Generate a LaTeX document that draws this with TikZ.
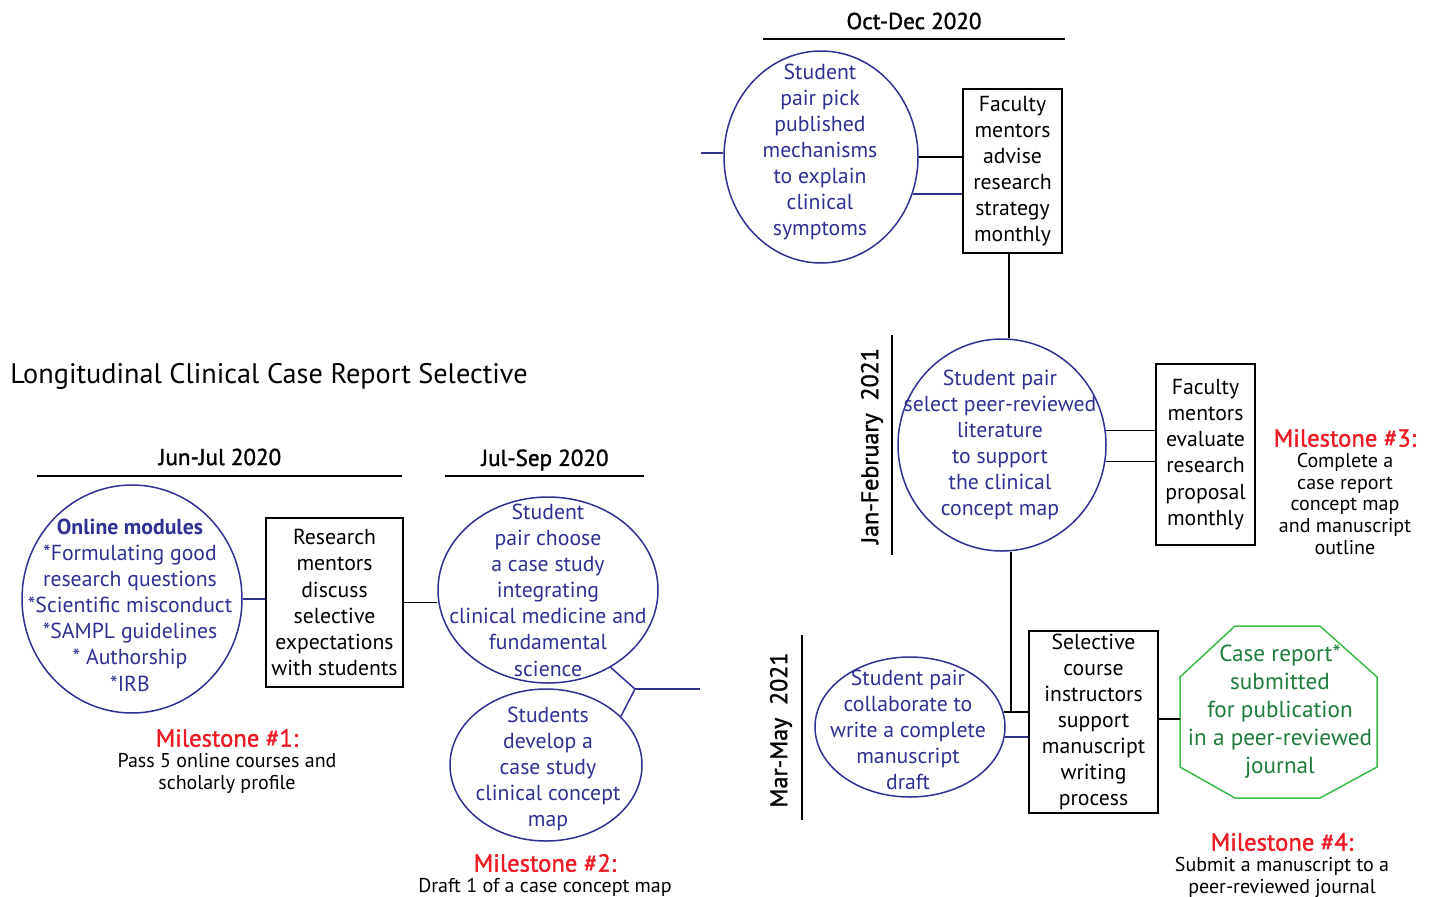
\documentclass[tikz,border=0pt]{standalone}
\usepackage{fontspec}
\setmainfont{PT Sans}
\newfontfamily\semib[FakeBold=1.4]{PT Sans}
\usetikzlibrary{shapes.geometric,calc}
\newdimen\pxu \pxu=0.75pt
\definecolor{cblue}{HTML}{2E3192}
\definecolor{cred}{HTML}{ED1C24}
\definecolor{cgreen}{HTML}{1E7B3C}
\definecolor{cgreenl}{HTML}{3DBB4A}
\tikzset{
  circ/.style={draw=cblue, line width=1.5\pxu, ellipse, inner sep=0pt},
  ctext/.style={text=cblue, align=center, font=\fontsize{16.3pt}{19.6pt}\selectfont, inner sep=0pt},
  box/.style={draw=black, line width=1.5\pxu, align=center, inner sep=0pt, font=\fontsize{16.3pt}{19.6pt}\selectfont},
  bl/.style={draw=cblue, line width=1.5\pxu},
  kl/.style={draw=black, line width=1.5\pxu},
  head/.style={font=\semib\fontsize{17.3pt}{20pt}\selectfont, inner sep=0pt},
  vhead/.style={font=\semib\fontsize{18pt}{20pt}\selectfont, inner sep=0pt, rotate=90},
  mtitle/.style={text=cred, font=\semib\fontsize{18.5pt}{21pt}\selectfont, inner sep=0pt},
  mtext/.style={align=center, font=\fontsize{15pt}{16.3pt}\selectfont, inner sep=0pt},
}
\begin{document}
\begin{tikzpicture}[x=0.75pt,y=-0.75pt]
\useasboundingbox (0,0) rectangle (1431,896);
% title
\node[anchor=west, font=\fontsize{21.2pt}{25pt}\selectfont, inner sep=0pt] (title) at (10,376) {Longitudinal Clinical Case Report Selective};
% headings
\node[head] (h1) at (220,457) {Jun-Jul 2020};
\draw[kl] (37,476) -- (402,476);
\node[head] (h2) at (545,460) {Jul-Sep 2020};
\draw[kl] (445,476) -- (644,476);
\node[head] (h3) at (914,21) {Oct-Dec 2020};
\draw[kl] (763,39) -- (1065,39);
\node[vhead] (h4) at (872,446) {Jan-February\ \ 2021};
\draw[kl] (892,335) -- (892,555);
\node[vhead] (h5) at (781,730) {Mar-May\ \ 2021};
\draw[kl] (802,635) -- (802,820);
% circles
\node[circ, minimum width=220\pxu, minimum height=228\pxu] (c1) at (132,599) {};
\node[ctext] (t1) at (130,605) {{\bfseries Online modules}\\*Formulating good\\research questions\\*Scientific misconduct\\*SAMPL guidelines\\* Authorship\\*IRB};
\node[circ, minimum width=220\pxu, minimum height=186\pxu] (c2) at (548,590) {};
\node[ctext] (t2) at (548,590) {Student\\pair choose\\a case study\\integrating\\clinical medicine and\\fundamental\\science};
\node[circ, minimum width=192\pxu, minimum height=152\pxu] (c3) at (546,765) {};
\node[ctext] (t3) at (548,769) {Students\\develop a\\case study\\clinical concept\\map};
\node[circ, minimum width=194\pxu, minimum height=212\pxu] (c4) at (821,157) {};
\node[ctext] (t4) at (820,152) {Student\\pair pick\\published\\mechanisms\\to explain\\clinical\\symptoms};
\node[circ, minimum width=208\pxu, minimum height=212\pxu] (c5) at (1002,445) {};
\node[ctext] (t5) at (1000,445) {Student pair\\select peer-reviewed\\literature\\to support\\the clinical\\concept map};
\node[circ, minimum width=190\pxu, minimum height=140\pxu] (c6) at (910,727) {};
\node[ctext] (t6) at (908,730) {Student pair\\collaborate to\\write a complete\\manuscript\\draft};
% boxes
\node[box, minimum width=137\pxu, minimum height=169\pxu] (b1) at (334.5,602.5) {Research\\mentors\\discuss\\selective\\expectations\\with students};
\node[box, minimum width=99\pxu, minimum height=164\pxu] (b2) at (1012.5,171) {Faculty\\mentors\\advise\\research\\strategy\\monthly};
\node[box, minimum width=99\pxu, minimum height=181\pxu] (b3) at (1205.5,454.5) {Faculty\\mentors\\evaluate\\research\\proposal\\monthly};
\node[box, minimum width=129\pxu, minimum height=182\pxu] (b4) at (1093.5,722) {Selective\\course\\instructors\\support\\manuscript\\writing\\process};
% octagon
\node[minimum width=197\pxu, minimum height=172\pxu, inner sep=0pt] (oct) at (1278.5,712) {};
\draw[draw=cgreenl, line width=1.5\pxu] (1235,626) -- (1320,626) -- (1377,677) -- (1377,767) -- (1320,798) -- (1235,798) -- (1180,767) -- (1180,677) -- cycle;
\node[text=cgreen, align=center, font=\fontsize{17.4pt}{21pt}\selectfont, inner sep=0pt] (t7) at (1280,712) {Case report*\\submitted\\for publication\\in a peer-reviewed\\journal};
% connectors
\draw[bl] (c1.east) -- (c1.east -| b1.west);
\draw[kl] (b1.east) -- (b1.east -| c2.west);
\coordinate (j1) at (635,689);
\coordinate (e1) at (700,689);
\draw[bl] (c2.-51) -- (j1) -- (c3.33);
\draw[bl] (j1) -- (e1);
\coordinate (e2) at (701,153);
\draw[bl] (e2) -- (e2 -| c4.west);
\draw[kl] (c4.east) -- (c4.east -| b2.west);
\draw[bl] (c4.-22) -- (c4.-22 -| b2.west);
\draw[kl] (b2.south -| 1009,0) -- (c5.north -| 1009,0);
\draw[kl] (c5.8.4) -- (c5.8.4 -| b3.west);
\draw[kl] (c5.-9.5) -- (c5.-9.5 -| b3.west);
\coordinate (j2) at (1011,711);
\draw[kl] (j2 |- c5.south) -- (j2);
\draw[kl] (c6.9.6) -- (c6.9.6 -| b4.west);
\draw[bl] (c6.-6.6) -- (c6.-6.6 -| b4.west);
\draw[kl] (b4.east |- 0,719) -- (oct.west |- 0,719);
% milestones
\node[mtitle] (m1) at (227,738) {Milestone \#1:};
\node[mtext, anchor=north] (m1t) at (227,753) {Pass 5 online courses and\\scholarly profile};
\node[mtitle] (m2) at (545,863) {Milestone \#2:};
\node[mtext, anchor=north] (m2t) at (545,878) {Draft 1 of a case concept map};
\node[mtitle] (m3) at (1345,438) {Milestone \#3:};
\node[mtext, anchor=north] (m3t) at (1345,453) {Complete a\\case report\\concept map\\and manuscript\\outline};
\node[mtitle] (m4) at (1282,842) {Milestone \#4:};
\node[mtext, anchor=north] (m4t) at (1282,857) {Submit a manuscript to a\\peer-reviewed journal};
\end{tikzpicture}
\end{document}
